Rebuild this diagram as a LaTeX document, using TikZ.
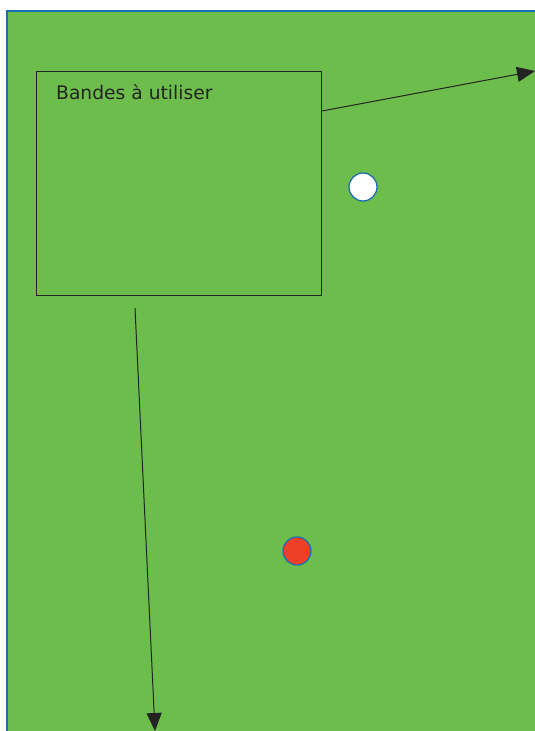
\documentclass[tikz,border=0pt]{standalone}
\usepackage{fontspec}
\setmainfont{DejaVu Sans}
\usetikzlibrary{positioning,arrows.meta}

\begin{document}
\begin{tikzpicture}[x=1pt, y=-1pt, every node/.style={font=\fontsize{18.7}{22}\selectfont}]
		% Define colors
		\definecolor{pitch}{RGB}{108, 189, 75}
		\definecolor{edge}{RGB}{30, 110, 180}
		\definecolor{ink}{RGB}{35, 35, 35}
		\definecolor{redball}{RGB}{238, 64, 37}
		
		\tikzset{
			zone/.style={draw=ink, line width=1pt, minimum width=285pt, minimum height=224pt, inner sep=0pt},
			ball/.style={circle, draw=edge, line width=1.3pt, minimum size=28pt, inner sep=0pt},
			move/.style={draw=ink, line width=1pt, -{Triangle[length=18pt, width=15pt]}}
		}
		
		% Frame
		\useasboundingbox (0, 0) rectangle (535, 731);
		\fill[pitch] (7, 11) rectangle (535, 731);
		\draw[edge, line width=1.5pt] (7, 731) -- (7, 11) -- (535, 11);
		
		% Zone with label
		\node[zone, anchor=north west] (bandes) at (36, 71) {};
		\node[text=ink, anchor=north west, inner sep=0pt] (label) at (56, 84.5) {Bandes à utiliser};
		
		% Balls
		\node[ball, fill=white] (white) at (363, 187) {};
		\node[ball, fill=redball] (red) at (297, 551) {};
		
		% Moves
		\coordinate (startright) at (bandes.north east |- 0, 111);
		\coordinate (endright) at (535, 71);
		\coordinate (startdown) at (135, 308);
		\coordinate (enddown) at (155, 731);
		\draw[move] (startright) -- (endright);
		\draw[move] (startdown) -- (enddown);
		
	\end{tikzpicture}
\end{document}
